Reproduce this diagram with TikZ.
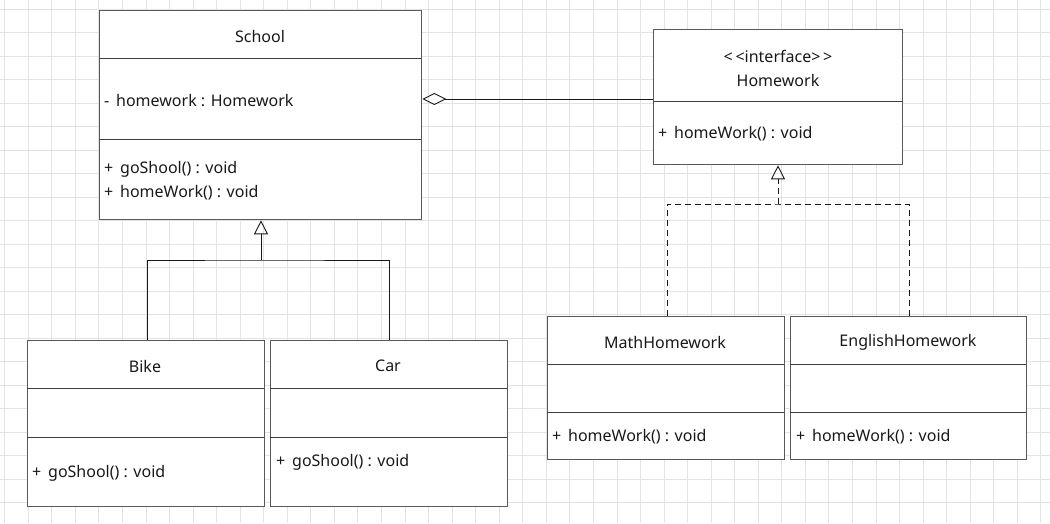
\documentclass[tikz,border=0pt]{standalone}
\usepackage{fontspec}
\setmainfont{Noto Sans}
\usetikzlibrary{calc, positioning}
\usetikzlibrary{arrows.meta}

\tikzset{
  gridline/.style={draw=black!11, line width=1pt},
  umlbox/.style={draw=black!65, line width=1.3pt, fill=white, rectangle, anchor=north west, inner sep=0pt},
  sepline/.style={draw=black!75, line width=1pt},
  txt/.style={inner sep=0pt, text=black!90, font=\fontsize{16}{19}\selectfont},
  member/.style={txt, anchor=west},
  conn/.style={draw=black!90, line width=0.9pt},
}

\begin{document}
\begin{tikzpicture}[x=1pt, y=-1pt]
\useasboundingbox (0,0) rectangle (1050,523);
\fill[white] (0,0) rectangle (1050,523);

% background grid
\foreach \gx in {0,...,44} {
  \draw[gridline] ({4.7+23.55*\gx},0) -- ({4.7+23.55*\gx},523);
}
\foreach \gy in {0,...,22} {
  \draw[gridline] (0,{9.3+23.5*\gy}) -- (1050,{9.3+23.5*\gy});
}

% class boxes
\node[umlbox, minimum width=322pt, minimum height=209pt] (school) at (99,10) {};
\node[umlbox, minimum width=249pt, minimum height=135pt] (homework) at (653,29) {};
\node[umlbox, minimum width=237pt, minimum height=166pt] (bike) at (27,340) {};
\node[umlbox, minimum width=237pt, minimum height=166pt] (car) at (270,340) {};
\node[umlbox, minimum width=237pt, minimum height=143pt] (math) at (547,316) {};
\node[umlbox, minimum width=236pt, minimum height=143pt] (english) at (790,316) {};

% compartments
\draw[sepline] (99,58) -- (421,58);
\draw[sepline] (99,139) -- (421,139);
\draw[sepline] (653,101) -- (902,101);
\foreach \bx/\ex in {27/264, 270/507} {
  \draw[sepline] (\bx,388) -- (\ex,388);
  \draw[sepline] (\bx,437) -- (\ex,437);
}
\foreach \bx/\ex in {547/784, 790/1026} {
  \draw[sepline] (\bx,364) -- (\ex,364);
  \draw[sepline] (\bx,412) -- (\ex,412);
}

% texts
\node[txt] (school-name) at (260,36) {School};
\node[member] (school-attr) at (104,101) {-\, homework : Homework};
\node[member] (school-op1) at (104,169) {+\, goShool() : void};
\node[member] (school-op2) at (104,193) {+\, homeWork() : void};

\node[txt] (hw-stereo) at (778,56) {{<}\,{<}interface{>}\,{>}};
\node[txt] (hw-name) at (778,80) {Homework};
\node[member] (hw-op) at (658,134) {+\, homeWork() : void};

\node[txt] (bike-name) at (145,366) {Bike};
\node[member] (bike-op) at (32,473) {+\, goShool() : void};

\node[txt] (car-name) at (388,366) {Car};
\node[member] (car-op) at (276,462) {+\, goShool() : void};

\node[txt] (math-name) at (665,342) {MathHomework};
\node[member] (math-op) at (552,437) {+\, homeWork() : void};

\node[txt] (english-name) at (908,342) {EnglishHomework};
\node[member] (english-op) at (796,437) {+\, homeWork() : void};

% aggregation
\coordinate (aggr-end) at (653,99);
\draw[conn, {Diamond[open, length=24pt, width=12pt, line width=0.9pt]}-] (school.east |- aggr-end) -- (aggr-end);

% generalization
\coordinate (gen-join) at (261,260);
\draw[conn, -{Triangle[open, length=14pt, width=14pt, line width=0.9pt]}] (gen-join) -- (gen-join |- school.south);
\draw[conn] ([xshift=1.5pt]bike.north) |- (gen-join) -| ([xshift=0.5pt]car.north);

% realization
\coordinate (real-join) at (778,204);
\draw[conn, dashed, dash pattern=on 6pt off 4pt, -{Triangle[open, length=14pt, width=14pt, line width=0.9pt]}] (real-join) -- (real-join |- homework.south);
\draw[conn, dashed, dash pattern=on 6pt off 4pt] ([xshift=1pt]math.north) |- (real-join) -| ([xshift=1pt]english.north);
\end{tikzpicture}
\end{document}
